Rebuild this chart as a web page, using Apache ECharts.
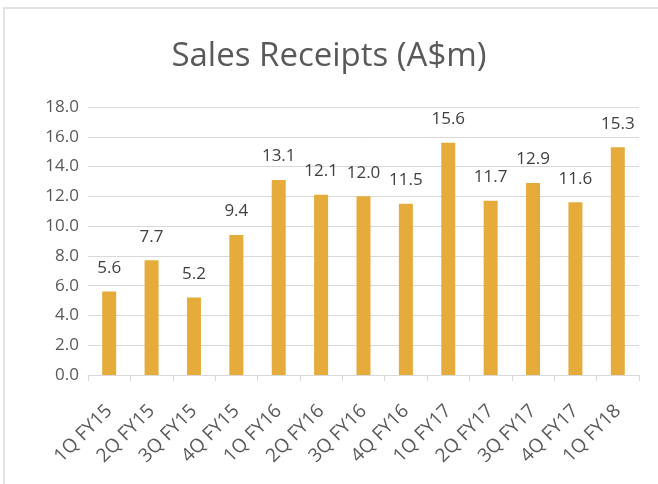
<!DOCTYPE html>
<html>
<head>
<meta charset="utf-8">
<script src="https://cdn.jsdelivr.net/npm/echarts@6/dist/echarts.min.js"></script>
<style>
  html, body { margin: 0; padding: 0; background: #fff; }
  #frame {
    position: absolute; left: 3px; top: 7px; right: 0; bottom: 0;
    border-left: 2px solid #e3e3e3; border-top: 2px solid #e3e3e3;
  }
  #showChart { position: absolute; left: 0; top: 0; width: 658px; height: 484px; }
</style>
</head>
<body>
<div id="frame"></div>
<div id="showChart"></div>
<script>
// 季度
const quarters = [
  "1Q FY15", "2Q FY15", "3Q FY15", "4Q FY15",
  "1Q FY16", "2Q FY16", "3Q FY16", "4Q FY16",
  "1Q FY17", "2Q FY17", "3Q FY17", "4Q FY17",
  "1Q FY18",
];

// 销售收入 (A$m)
const receipts = [5.6, 7.7, 5.2, 9.4, 13.1, 12.1, 12.0, 11.5, 15.6, 11.7, 12.9, 11.6, 15.3];

const yMin = 0;
const yMax = 18;
const yStep = 2;

const font = "'Open Sans', 'Liberation Sans', sans-serif";

let myChart = echarts.init(document.getElementById("showChart"), null, { renderer: "canvas" });
let option = {
  animation: false,
  title: {
    text: "Sales Receipts (A$m)",
    left: "center",
    top: 35,
    textStyle: {
      color: "#595959",
      fontFamily: font,
      fontWeight: "normal",
      fontSize: 33,
    },
  },
  grid: {
    left: 88,
    right: 19,
    top: 107,
    bottom: 109,
  },
  xAxis: {
    type: "category",
    data: quarters,
    axisLine: { lineStyle: { color: "#d9d9d9", width: 1 } },
    axisTick: { show: true, length: 6, lineStyle: { color: "#d9d9d9" } },
    axisLabel: {
      rotate: 45,
      interval: 0,
      margin: 33,
      color: "#595959",
      fontFamily: font,
      fontSize: 19,
    },
  },
  yAxis: {
    type: "value",
    min: yMin,
    max: yMax,
    interval: yStep,
    axisLine: { show: false },
    axisTick: { show: false },
    splitLine: { lineStyle: { color: "#d9d9d9", width: 1 } },
    axisLabel: {
      margin: 9,
      color: "#595959",
      fontFamily: font,
      fontSize: 17,
      formatter: (v) => v.toFixed(1),
    },
  },
  series: [
    {
      name: "Sales Receipts",
      type: "bar",
      data: receipts,
      barWidth: 14,
      itemStyle: { color: "#E6AC3B" },
      label: {
        show: true,
        position: "top",
        distance: 15,
        color: "#404040",
        fontFamily: font,
        fontSize: 17,
        formatter: (p) => p.value.toFixed(1),
      },
    },
  ],
};
myChart.setOption(option);
</script>
</body>
</html>
